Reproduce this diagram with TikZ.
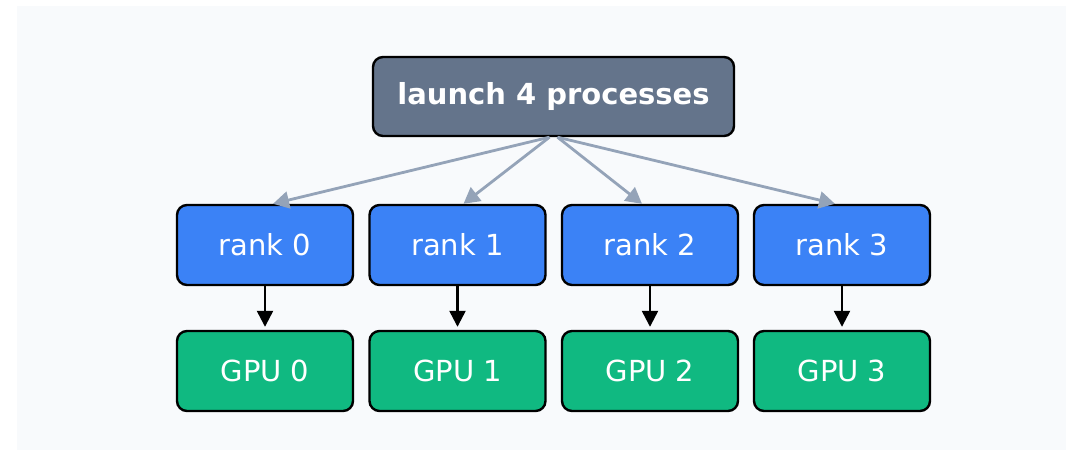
\documentclass[tikz,border=0pt]{standalone}
\usepackage{fontspec}
\setmainfont{DejaVu Sans}
\usetikzlibrary{arrows.meta}
\definecolor{bgpanel}{HTML}{F8FAFC}
\definecolor{slatebox}{HTML}{64748B}
\definecolor{rankblue}{HTML}{3B82F6}
\definecolor{gpugreen}{HTML}{10B981}
\definecolor{fanline}{HTML}{94A3B8}
\tikzset{
  box/.style={draw=black, line width=2.4pt, rounded corners=10pt, text=white,
    minimum width=176pt, minimum height=80pt, inner sep=0pt,
    font=\fontsize{29}{34}\selectfont},
  launchbox/.style={box, fill=slatebox, minimum width=361pt, minimum height=79pt,
    font=\fontsize{29}{34}\selectfont\bfseries},
  rankbox/.style={box, fill=rankblue},
  gpubox/.style={box, fill=gpugreen},
  fan/.style={draw=fanline, line width=2.8pt,
    -{Triangle[length=16pt,width=17pt]}},
  bind/.style={draw=black, line width=2.4pt,
    -{Triangle[length=16pt,width=16pt]}, shorten >=3pt},
}
\begin{document}
\begin{tikzpicture}[x=1pt,y=-1pt]
\useasboundingbox (0,0) rectangle (1068,450);
\fill[bgpanel] (17,6) rectangle (1066,450);

\node[launchbox] (top) at (553.5,96.5) {launch 4 processes};

\node[rankbox] (r0) at (265,245) {rank 0};
\node[rankbox] (r1) at (457.5,245) {rank 1};
\node[rankbox] (r2) at (650,245) {rank 2};
\node[rankbox] (r3) at (842,245) {rank 3};

\node[gpubox] (g0) at (265,371) {GPU 0};
\node[gpubox] (g1) at (457.5,371) {GPU 1};
\node[gpubox] (g2) at (650,371) {GPU 2};
\node[gpubox] (g3) at (842,371) {GPU 3};

% fan-out from the launcher to each rank
\draw[fan] ([xshift=-4pt]top.south) -- ([xshift=8pt]r0.north);
\draw[fan] ([xshift=-4pt]top.south) -- ([xshift=6pt]r1.north);
\draw[fan] ([xshift=4pt]top.south) -- ([xshift=-8pt]r2.north);
\draw[fan] ([xshift=4pt]top.south) -- ([xshift=-7pt]r3.north);

% each rank bound to its GPU
\draw[bind] (r0.south) -- (g0.north);
\draw[bind] (r1.south) -- (g1.north);
\draw[bind] (r2.south) -- (g2.north);
\draw[bind] (r3.south) -- (g3.north);
\end{tikzpicture}
\end{document}
